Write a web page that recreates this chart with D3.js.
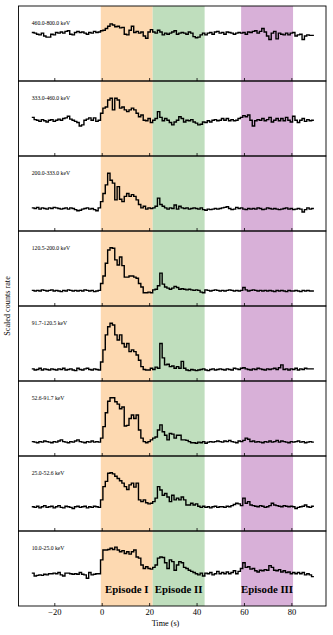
<!doctype html>
<html lang="en">
<head>
  <meta charset="utf-8">
  <title>Light curves by energy band</title>
  <script src="https://d3js.org/d3.v7.min.js"></script>
  <style>
    body { margin: 0; background: #fff; }
    text { font-family: 'Liberation Serif', 'DejaVu Serif', serif; }
  </style>
</head>
<body>
<script>
// energy bands, top panel first
var bandLabels = ['460.0-800.0 keV', '333.0-460.0 keV', '200.0-333.0 keV', '120.5-200.0 keV',
                  '91.7-120.5 keV', '52.6-91.7 keV', '25.0-52.6 keV', '10.0-25.0 keV'];

// 1 s bins, first bin centred on t = -29 s
var binStart = -29.5, binWidth = 1;

// scaled count rates
var rate_460_800 = [84,83,81,80,83,78,76,76,81,80, 84,83,85,83,86,87,81,80,84,86, 84,85,83,81,84,83,86,84,85,87,
  88,91,95,99,97,94,95,92,93,81, 80,88,95,84,86,83,85,78,74,85, 89,85,83,88,85,80,83,81,83,85,
  87,81,83,84,83,81,85,83,77,75, 76,80,83,80,83,84,81,85,86,83, 84,81,85,84,83,81,83,84,83,84,
  81,85,84,86,87,83,86,91,85,78, 72,83,86,73,83,81,80,83,80,83, 84,78,80,81,72,78,80,79,79];
var rate_333_460 = [67,63,62,60,63,61,59,62,63,60, 62,64,62,65,66,69,64,62,60,58, 52,54,62,64,66,62,66,60,62,74,
  83,85,97,100,80,100,97,83,85,80, 77,80,83,80,74,68,71,62,61,65, 58,62,65,77,67,61,65,62,58,54,
  59,62,68,65,59,62,61,63,59,57, 54,55,59,58,61,59,62,63,61,62, 65,62,65,61,63,61,62,65,67,70,
  68,71,62,52,61,63,62,65,61,63, 67,59,62,65,61,65,61,67,62,59, 69,62,58,62,65,60,63,61,62];
var rate_200_333 = [40,39,41,38,40,39,38,40,39,41, 40,39,38,39,40,38,40,39,37,35, 36,38,39,40,38,39,37,35,40,51,
  65,80,100,88,83,54,77,55,51,60, 65,60,63,60,54,46,40,43,38,40, 39,40,43,57,46,43,40,38,40,39,
  45,38,43,40,39,40,38,39,40,39, 38,40,37,36,38,37,38,39,38,39, 40,41,42,39,37,38,41,39,40,38,
  37,39,38,39,38,40,39,37,38,40, 39,38,39,38,37,38,39,40,38,39, 37,38,39,38,33,37,40,38,39];
var rate_120_200 = [27,26,27,26,28,27,26,27,28,26, 27,26,25,27,26,28,27,26,27,26, 27,26,28,27,26,27,25,26,27,39,
  52,74,97,101,100,80,71,85,70,50, 50,52,52,50,48,39,33,23,23,24, 23,28,29,35,57,38,33,31,29,31,
  34,32,29,30,29,28,29,28,27,28, 27,24,23,28,27,26,27,28,27,26, 27,26,27,28,27,26,27,26,27,32,
  28,26,27,28,27,26,27,26,27,26, 27,26,25,27,26,27,26,25,27,26, 26,27,26,25,27,26,27,26,26];
var rate_91_120 = [21,19,20,22,19,21,20,19,21,20, 19,21,20,22,19,20,21,19,18,22, 20,19,21,22,20,19,21,20,19,33,
  54,80,94,100,97,80,71,80,65,59, 65,51,54,51,45,36,25,20,19,19, 22,20,24,22,65,40,28,29,25,26,
  22,25,22,34,22,19,18,20,19,18, 19,20,21,19,18,20,21,19,20,21, 20,19,21,20,19,22,21,20,22,23,
  21,20,19,21,20,22,21,20,19,21, 20,21,22,20,23,28,20,21,19,21, 20,22,19,21,20,22,21,21,21];
var rate_52_91 = [25,24,23,25,24,26,25,24,23,25, 24,26,28,25,24,23,25,24,26,28, 25,24,23,25,24,26,24,25,24,31,
  51,75,95,101,101,94,90,82,85,52, 53,65,71,65,71,45,31,25,23,25, 28,31,33,45,54,42,36,28,39,38,
  31,36,36,28,28,27,25,23,23,22, 24,23,25,22,24,25,24,25,26,25, 24,26,25,27,25,24,23,26,25,27,
  31,29,25,26,24,25,24,23,25,24, 26,24,25,27,24,26,25,24,23,25, 24,25,26,24,25,23,24,25,24];
var rate_25_52 = [42,41,43,40,42,44,41,42,43,40, 42,44,41,40,43,42,41,39,42,43, 41,42,43,40,42,41,43,42,41,54,
  77,86,100,101,99,95,91,87,83,77, 72,80,83,76,83,54,51,54,49,47, 48,51,57,77,71,62,65,59,51,62,
  54,57,54,59,54,45,45,48,45,47, 43,41,43,41,42,40,42,43,41,42, 42,41,43,42,44,46,48,47,44,57,
  48,51,45,44,43,42,44,43,41,42, 44,48,45,44,43,42,44,43,42,43, 42,39,41,42,43,45,42,41,43];
var rate_10_25 = [57,52,53,54,53,55,54,56,56,57, 56,58,54,52,57,57,56,55,56,55, 58,55,54,48,58,54,55,56,56,80,
  97,97,98,100,98,102,97,94,96,91, 94,90,94,97,85,83,71,65,68,65, 64,67,71,83,85,84,75,65,80,77,
  62,71,77,75,67,65,62,60,58,56, 54,57,52,57,56,58,54,56,60,56, 58,56,59,56,58,61,56,60,65,75,
  67,68,64,65,61,59,62,61,63,62, 70,67,62,61,63,59,61,58,59,56, 58,56,58,56,58,54,56,54,51];

// episodes (s)
var episodeNames = ['Episode I', 'Episode II', 'Episode III'];
var episodeStart = [-0.4, 21.5, 58.8];
var episodeEnd = [21.5, 43.4, 80.7];
var episodeColors = ['#fdd9b1', '#bfdebd', '#d8b0d8'];

var xTicks = [-20, 0, 20, 40, 60, 80];

var panels = [rate_460_800, rate_333_460, rate_200_333, rate_120_200,
              rate_91_120, rate_52_91, rate_25_52, rate_10_25];

var width = 333,
    height = 635,
    left = 18.5,
    right = 326,
    top0 = 6,
    panelH = 75;

var svg = d3.select('body')
  .append('svg')
  .attr('width', width)
  .attr('height', height);

var x = d3.scaleLinear().domain([-35.1, 94.6]).range([left, right]);
var bottom = top0 + panelH * panels.length;

// shaded episodes across all panels
svg.selectAll('rect.episode')
  .data(episodeNames)
  .enter()
  .append('rect')
  .attr('class', 'episode')
  .attr('x', (d, i) => x(episodeStart[i]))
  .attr('width', (d, i) => x(episodeEnd[i]) - x(episodeStart[i]))
  .attr('y', top0)
  .attr('height', bottom - top0)
  .attr('fill', (d, i) => episodeColors[i]);

panels.forEach(function(vals, p) {
  var top = top0 + p * panelH;
  var y = d3.scaleLinear().domain([0, 130]).range([top + panelH, top]);
  var g = svg.append('g');

  // step curve: each bin drawn from its left edge, plus closing point
  var pts = vals.map((v, i) => [binStart + i * binWidth, v]);
  pts.push([binStart + vals.length * binWidth, vals[vals.length - 1]]);
  var line = d3.line()
    .x(d => x(d[0]))
    .y(d => y(d[1]))
    .curve(d3.curveStepAfter);

  g.append('path')
    .datum(pts)
    .attr('d', line)
    .attr('fill', 'none')
    .attr('stroke', '#000')
    .attr('stroke-width', 1.4)
    .attr('stroke-linejoin', 'miter');

  // inward ticks on the bottom edge of every panel
  var axis = d3.axisBottom(x)
    .tickValues(xTicks)
    .tickSizeInner(-3)
    .tickSizeOuter(0)
    .tickPadding(3);
  if (p < panels.length - 1) axis.tickFormat('');
  var ax = g.append('g')
    .attr('transform', 'translate(0,' + (top + panelH) + ')')
    .call(axis);
  ax.select('.domain').remove();
  ax.selectAll('line').attr('stroke', '#000').attr('stroke-width', 0.8);
  ax.selectAll('text')
    .attr('fill', '#000')
    .style('font-family', "'Liberation Serif', 'DejaVu Serif', serif")
    .style('font-size', '8.5px');

  g.append('rect')
    .attr('x', left)
    .attr('y', top)
    .attr('width', right - left)
    .attr('height', panelH)
    .attr('fill', 'none')
    .attr('stroke', '#000')
    .attr('stroke-width', 0.9);

  g.append('text')
    .attr('x', 31.7)
    .attr('y', top + 18.5)
    .style('font-size', '5.7px')
    .text(bandLabels[p]);
});

// episode names in the bottom panel
svg.selectAll('text.episode')
  .data(episodeNames)
  .enter()
  .append('text')
  .attr('class', 'episode')
  .attr('x', (d, i) => (x(episodeStart[i]) + x(episodeEnd[i])) / 2)
  .attr('y', 593)
  .attr('text-anchor', 'middle')
  .style('font-size', '10.8px')
  .style('font-weight', 'bold')
  .text(d => d);

svg.append('text')
  .attr('x', 165.5)
  .attr('y', 626)
  .attr('text-anchor', 'middle')
  .style('font-size', '8.2px')
  .text('Time (s)');

svg.append('text')
  .attr('transform', 'translate(10,' + ((top0 + bottom) / 2) + ') rotate(-90)')
  .attr('text-anchor', 'middle')
  .style('font-size', '8.2px')
  .text('Scaled counts rate');
</script>
</body>
</html>
